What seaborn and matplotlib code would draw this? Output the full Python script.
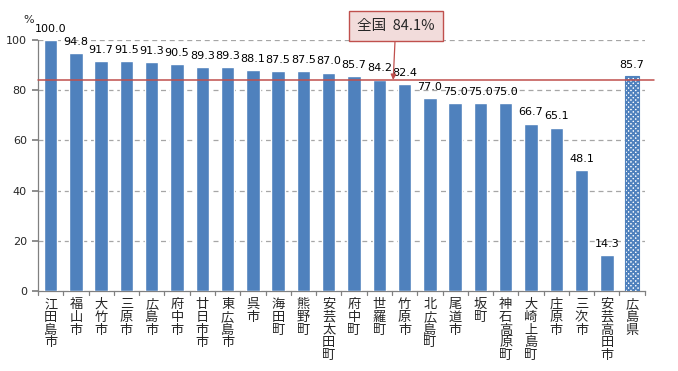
import matplotlib
matplotlib.use('Agg')
import matplotlib.pyplot as plt
import seaborn as sns
import pandas as pd

areas = ['江田島市', '福山市', '大竹市', '三原市', '広島市', '府中市', '廿日市市', '東広島市',
         '呉市', '海田町', '熊野町', '安芸太田町', '府中町', '世羅町', '竹原市', '北広島町',
         '尾道市', '坂町', '神石高原町', '大崎上島町', '庄原市', '三次市', '安芸高田市', '広島県']
rates = [100.0, 94.8, 91.7, 91.5, 91.3, 90.5, 89.3, 89.3, 88.1, 87.5, 87.5, 87.0,
         85.7, 84.2, 82.4, 77.0, 75.0, 75.0, 75.0, 66.7, 65.1, 48.1, 14.3, 85.7]
national = 84.1
yticks = [0, 20, 40, 60, 80, 100]

sns.set_theme(style='white')
plt.rcParams['font.family'] = ['Noto Sans CJK JP', 'DejaVu Sans']
plt.rcParams['hatch.linewidth'] = 1.3

df = pd.DataFrame({'area': areas, 'rate': rates})

fig = plt.figure(figsize=(6.78, 3.71), dpi=100)
ax = fig.add_axes([0.056, 0.2156, 0.895, 0.6764])

blue = '#4f81bd'
sns.barplot(data=df, x='area', y='rate', color=blue, width=0.53, saturation=1,
            ax=ax, zorder=3)

# prefecture bar is drawn with a checkered fill
last = ax.patches[-1]
last.set_facecolor('white')
last.set_edgecolor(blue)
last.set_hatch('xxxxxxx')
last.set_linewidth(0.8)

for i, v in enumerate(rates):
    ax.text(i, v + 2.5, f'{v:.1f}', ha='center', va='bottom', fontsize=8,
            color='black', family=['DejaVu Sans'], zorder=5)

ax.set_xlim(-0.5, len(areas) - 0.5)
ax.set_ylim(0, 100)
ax.set_yticks(yticks)
ax.set_yticklabels([str(t) for t in yticks], fontsize=8, family=['DejaVu Sans'])
for t in yticks[1:]:
    ax.axhline(t, color='#a6a6a6', lw=0.9, ls=(0, (4, 3)), zorder=1)

ax.set_xticks(range(len(areas)))
ax.set_xticklabels(['\n'.join(a) for a in areas], fontsize=9.5, va='top',
                   linespacing=0.98)
ax.tick_params(axis='x', length=0, pad=5)
ax.tick_params(axis='y', length=4, color='#808080', left=True, pad=4)
for i in range(len(areas) + 1):
    ax.plot([i - 0.5, i - 0.5], [0, -1.6], color='#808080', lw=0.9,
            clip_on=False, zorder=4)

for side in ['top', 'right']:
    ax.spines[side].set_visible(False)
for side in ['left', 'bottom']:
    ax.spines[side].set_color('#808080')
    ax.spines[side].set_linewidth(0.9)

ax.set_xlabel('')
ax.set_ylabel('')

ax.plot([0, 1.016], [national, national], transform=ax.get_yaxis_transform(),
        color='#c0504d', lw=1.1, clip_on=False, zorder=4)

ax.annotate(f'全国  {national}%', xy=(13.55, national), xytext=(13.65, 103),
            textcoords='data', ha='center', va='bottom', fontsize=10.5,
            annotation_clip=False,
            bbox=dict(boxstyle='square,pad=0.55', fc='#f2dcdb', ec='#c0504d', lw=1),
            arrowprops=dict(arrowstyle='-|>', color='#c0504d', lw=0.9,
                            mutation_scale=8, shrinkA=0, shrinkB=0),
            zorder=6)

fig.text(0.034, 0.945, '%', fontsize=8, ha='left', va='center',
         family=['DejaVu Sans'])

fig.savefig('out.png', dpi=100)
